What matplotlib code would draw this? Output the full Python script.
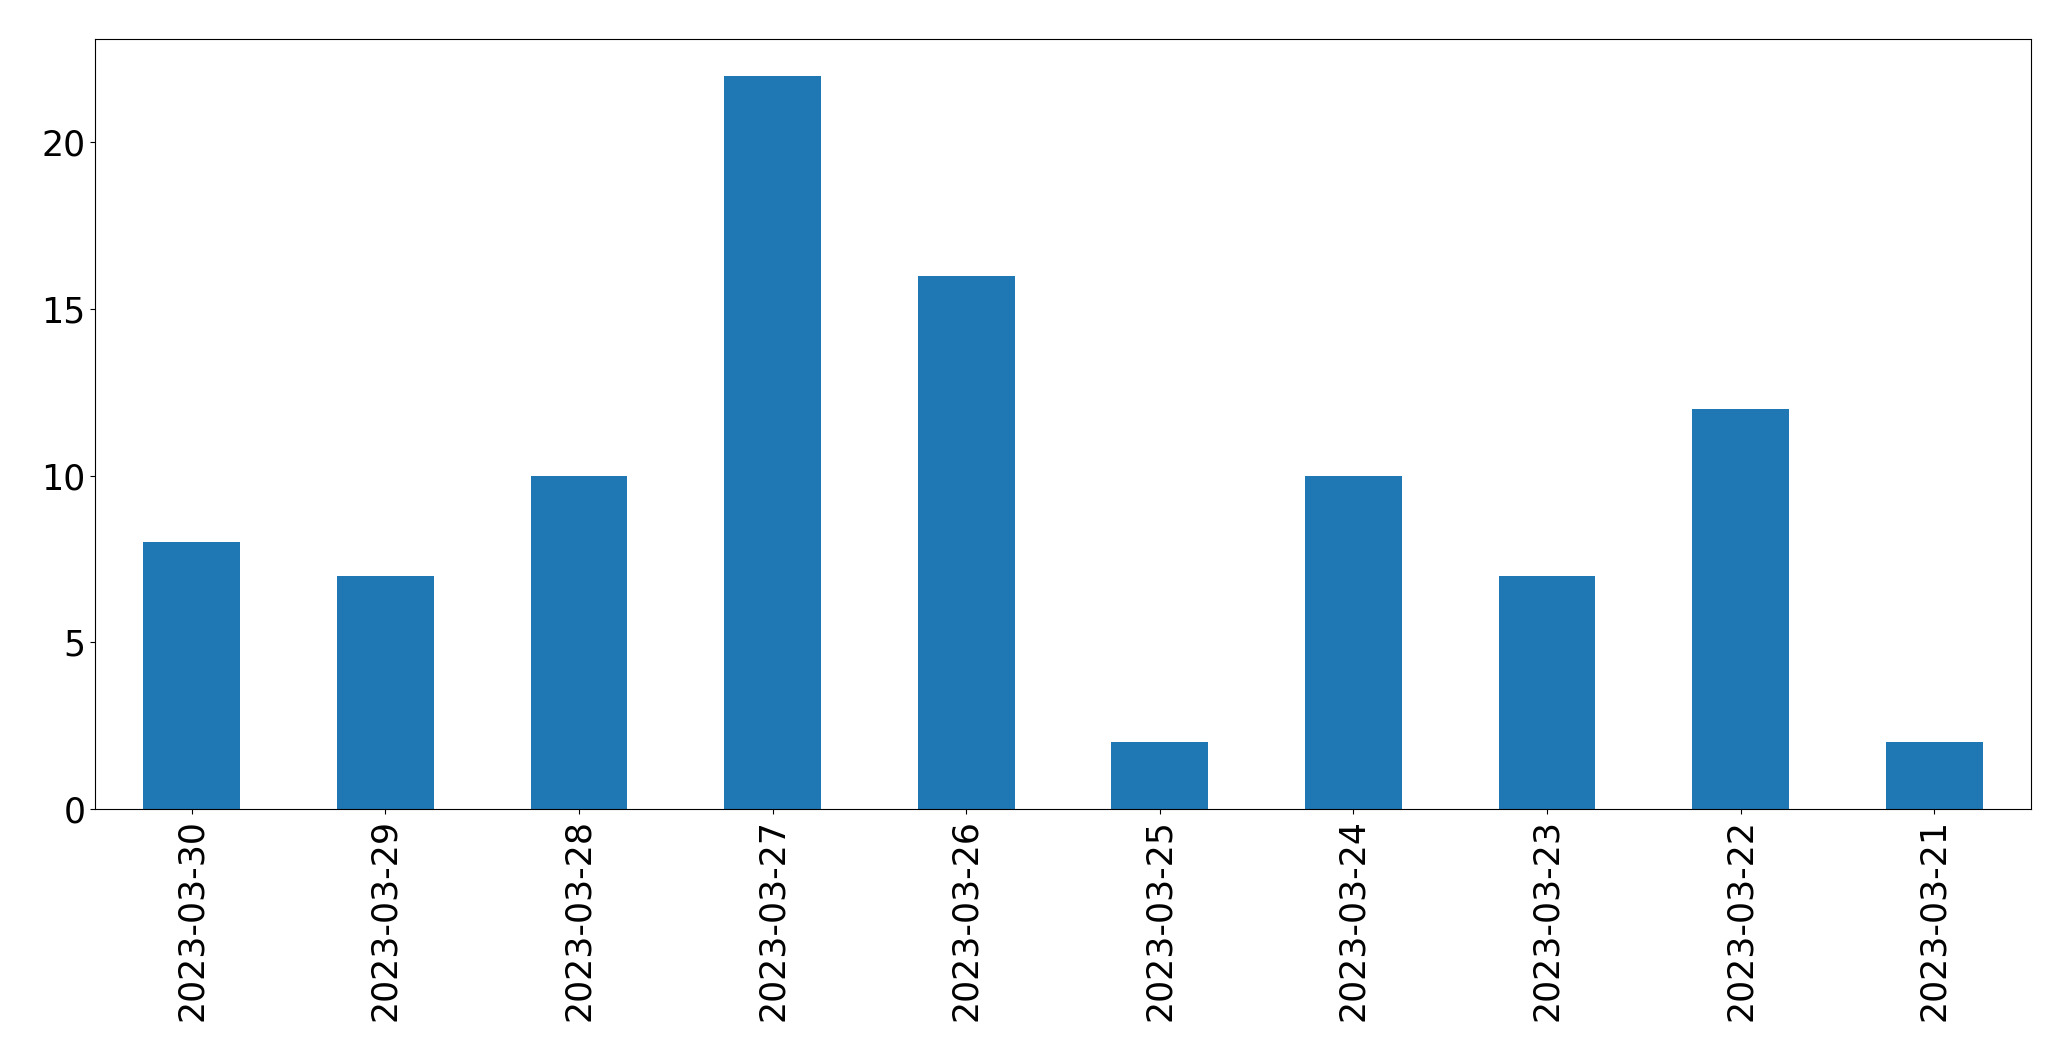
import matplotlib
matplotlib.use('Agg')
import matplotlib.pyplot as plt
import pandas as pd

dates = ['2023-03-30', '2023-03-29', '2023-03-28', '2023-03-27', '2023-03-26',
         '2023-03-25', '2023-03-24', '2023-03-23', '2023-03-22', '2023-03-21']
counts = [8, 7, 10, 22, 16, 2, 10, 7, 12, 2]

W, H = 2071, 1061
fig = plt.figure(figsize=(W / 100, H / 100), dpi=100)
ax = fig.add_axes([95 / W, 1 - 809 / H, (2031 - 95) / W, (809 - 39) / H])

s = pd.Series(counts, index=dates)
s.plot(kind='bar', ax=ax, color='#1f77b4', fontsize=25)

ax.set_xlabel('')
plt.savefig('out.png', dpi=100)
